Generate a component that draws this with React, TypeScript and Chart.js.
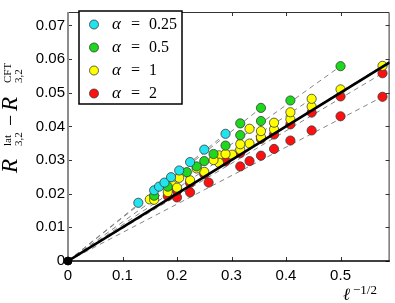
import React, { useEffect, useRef } from 'react';
import { Chart, registerables } from 'chart.js';
Chart.register(...registerables);

// ---- axis ticks ----
const xTicks = [0, 0.1, 0.2, 0.3, 0.4, 0.5];
const yTicks = [0, 0.01, 0.02, 0.03, 0.04, 0.05, 0.06, 0.07];
const xMax = 0.59;
const yMax = 0.074;

// ---- legend ----
const legendAlphas = ['0.25', '0.5', '1', '2'];
const alphaColors = ['#22e4ee', '#1ed81e', '#ffff00', '#ff1010'];

// ---- data (x = l^{-1/2}, y = R^lat - R^CFT) ----
// alpha = 0.25
const cyanX = [0.129, 0.158, 0.167, 0.177, 0.189, 0.204, 0.224, 0.25, 0.289];
const cyanY = [0.0173, 0.021, 0.0221, 0.0233, 0.0249, 0.0269, 0.0294, 0.0331, 0.0378];
// alpha = 0.5
const green1X = [0.158, 0.183, 0.218, 0.236, 0.25, 0.267, 0.289, 0.316, 0.354, 0.408, 0.5];
const green1Y = [0.0194, 0.0221, 0.0264, 0.0281, 0.0297, 0.0318, 0.0343, 0.0374, 0.0416, 0.0477, 0.0579];
const green2X = [0.316, 0.354];
const green2Y = [0.0409, 0.0455];
// alpha = 1
const yellow1X = [0.204, 0.236, 0.267, 0.289, 0.316, 0.354, 0.378, 0.408, 0.447];
const yellow1Y = [0.0247, 0.0275, 0.0300, 0.0318, 0.0347, 0.0386, 0.0411, 0.0442, 0.0482];
const yellow2X = [0.15, 0.158, 0.183, 0.2, 0.224, 0.25, 0.277, 0.301, 0.316, 0.333, 0.354, 0.378, 0.408, 0.447, 0.5, 0.577];
const yellow2Y = [0.0183, 0.0182, 0.0205, 0.0218, 0.024, 0.0265, 0.0292, 0.0316, 0.0331, 0.0349, 0.0368, 0.0391, 0.0421, 0.0459, 0.051, 0.058];
const yellow3X = [0.191, 0.277, 0.333];
const yellow3Y = [0.0226, 0.0314, 0.0393];
// alpha = 2
const red1X = [0.183, 0.2, 0.224, 0.25, 0.289, 0.316, 0.354, 0.378, 0.408, 0.447, 0.5, 0.577];
const red1Y = [0.0193, 0.0209, 0.0232, 0.0258, 0.0296, 0.0321, 0.0363, 0.0376, 0.0406, 0.0441, 0.0489, 0.0558];
const red2X = [0.2, 0.224, 0.258, 0.316, 0.333, 0.354, 0.378, 0.408, 0.447, 0.5, 0.577];
const red2Y = [0.0189, 0.0204, 0.0233, 0.0281, 0.0297, 0.0313, 0.0333, 0.0358, 0.0388, 0.043, 0.0488];

// ---- CFT reference line ----
const cftX = [0, 0.59];
const cftY = [0, 0.059];

const groups = [
  { xs: cyanX, ys: cyanY, c: 0, line: true },
  { xs: green1X, ys: green1Y, c: 1, line: true },
  { xs: green2X, ys: green2Y, c: 1, line: true },
  { xs: yellow1X, ys: yellow1Y, c: 2, line: true },
  { xs: yellow2X, ys: yellow2Y, c: 2, line: true },
  { xs: yellow3X, ys: yellow3Y, c: 2, line: false },
  { xs: red1X, ys: red1Y, c: 3, line: true },
  { xs: red2X, ys: red2Y, c: 3, line: true },
];

const toPts = (xs: number[], ys: number[]) => xs.map((x, i) => ({ x, y: ys[i] }));

const decorPlugin = {
  id: 'decor',
  beforeDatasetsDraw(chart: any) {
    const { ctx, chartArea: ca, scales } = chart;
    const sx = scales.x, sy = scales.y;
    ctx.save();
    // top & right frame
    ctx.strokeStyle = '#333';
    ctx.lineWidth = 1;
    ctx.beginPath();
    ctx.moveTo(ca.left, ca.top + 0.5);
    ctx.lineTo(ca.right - 0.5, ca.top + 0.5);
    ctx.lineTo(ca.right - 0.5, ca.bottom);
    ctx.stroke();
    // ticks
    ctx.beginPath();
    xTicks.forEach((v) => {
      const px = Math.round(sx.getPixelForValue(v)) + 0.5;
      ctx.moveTo(px, ca.bottom);
      ctx.lineTo(px, ca.bottom - 4);
      ctx.moveTo(px, ca.top);
      ctx.lineTo(px, ca.top + 4);
    });
    yTicks.forEach((v) => {
      const py = Math.round(sy.getPixelForValue(v)) + 0.5;
      ctx.moveTo(ca.left, py);
      ctx.lineTo(ca.left + 4, py);
      ctx.moveTo(ca.right, py);
      ctx.lineTo(ca.right - 4, py);
    });
    ctx.stroke();
    // bottom axis
    ctx.strokeStyle = '#000';
    ctx.lineWidth = 1.5;
    ctx.beginPath();
    ctx.moveTo(ca.left, ca.bottom);
    ctx.lineTo(ca.right, ca.bottom);
    ctx.stroke();
    // left axis
    ctx.strokeStyle = '#8c8c8c';
    ctx.lineWidth = 2;
    ctx.beginPath();
    ctx.moveTo(ca.left, ca.top);
    ctx.lineTo(ca.left, ca.bottom);
    ctx.stroke();
    ctx.restore();
  },
  afterDraw(chart: any) {
    const { ctx } = chart;
    ctx.save();
    // legend box
    ctx.fillStyle = '#fff';
    ctx.fillRect(79, 11, 103, 93);
    ctx.strokeStyle = '#000';
    ctx.lineWidth = 1.5;
    ctx.strokeRect(79, 11, 103, 93);
    legendAlphas.forEach((a, i) => {
      const cy = 24.5 + i * 23;
      ctx.beginPath();
      ctx.arc(94, cy, 4.5, 0, Math.PI * 2);
      ctx.fillStyle = alphaColors[i];
      ctx.fill();
      ctx.strokeStyle = '#3a3a3a';
      ctx.lineWidth = 0.8;
      ctx.stroke();
      ctx.fillStyle = '#000';
      ctx.textBaseline = 'alphabetic';
      ctx.textAlign = 'left';
      ctx.font = 'italic 17px "Liberation Serif"';
      ctx.fillText('α', 112, cy + 4.5);
      ctx.font = '16px "Liberation Serif"';
      ctx.fillText('=', 131, cy + 4.5);
      ctx.fillText(a, 149, cy + 4.5);
    });
    // x title: l^{-1/2}
    ctx.fillStyle = '#000';
    ctx.font = 'italic 17px "DejaVu Serif"';
    ctx.fillText('ℓ', 343, 300);
    ctx.font = '13px "Liberation Serif"';
    ctx.fillText('−1/2', 353, 294);
    // y title: R^lat_{3,2} - R^CFT_{3,2}
    ctx.translate(17, 175);
    ctx.rotate(-Math.PI / 2);
    ctx.font = 'italic 23px "Liberation Serif"';
    ctx.fillText('R', 2, 0);
    ctx.font = '11px "Liberation Serif"';
    ctx.fillText('lat', 29, -6);
    ctx.fillText('3,2', 29, 5);
    ctx.font = '20px "Liberation Serif"';
    ctx.fillText('−', 49, 0);
    ctx.font = 'italic 23px "Liberation Serif"';
    ctx.fillText('R', 64, 0);
    ctx.font = '11px "Liberation Serif"';
    ctx.fillText('CFT', 92, -6);
    ctx.fillText('3,2', 92, 5);
    ctx.restore();
  },
};

export default function App() {
  const ref = useRef<HTMLCanvasElement>(null);
  useEffect(() => {
    if (!ref.current) return;
    const datasets: any[] = [];
    groups.forEach((g) => {
      if (g.line) {
        const n = g.xs.length - 1;
        datasets.push({
          type: 'scatter',
          data: [{ x: cftX[0], y: cftY[0] }, { x: g.xs[n], y: g.ys[n] }],
          showLine: true,
          borderColor: '#777',
          borderWidth: 0.9,
          borderDash: [5, 4],
          pointRadius: 0,
          order: 5,
        });
      }
    });
    groups.forEach((g) => {
      datasets.push({
        type: 'scatter',
        data: toPts(g.xs, g.ys),
        backgroundColor: alphaColors[g.c],
        borderColor: '#3a3a3a',
        borderWidth: 0.8,
        pointRadius: 4.6,
        order: 3,
      });
    });
    datasets.push({
      type: 'scatter',
      data: toPts(cftX, cftY),
      showLine: true,
      borderColor: '#000',
      borderWidth: 2.6,
      pointRadius: 0,
      order: 1,
    });
    datasets.push({
      type: 'scatter',
      data: [{ x: cftX[0], y: cftY[0] }],
      backgroundColor: '#000',
      borderColor: '#000',
      pointRadius: 4,
      clip: false,
      order: 0,
    });

    const chart = new Chart(ref.current, {
      type: 'scatter',
      data: { datasets },
      options: {
        animation: false,
        responsive: false,
        devicePixelRatio: 1,
        layout: { padding: { top: 2, right: 2, left: 0, bottom: 0 } },
        plugins: { legend: { display: false }, tooltip: { enabled: false } },
        scales: {
          x: {
            type: 'linear',
            min: 0,
            max: xMax,
            grid: { display: false, drawTicks: false },
            border: { display: false },
            afterBuildTicks: (s: any) => { s.ticks = xTicks.map((v) => ({ value: v })); },
            afterFit: (s: any) => { s.height = 42; },
            ticks: {
              padding: 6,
              color: '#000',
              font: { family: '"Liberation Sans"', size: 15 },
              maxRotation: 0,
              callback: (v: any) => String(Math.round(v * 10) / 10),
            },
          },
          y: {
            type: 'linear',
            min: 0,
            max: yMax,
            grid: { display: false, drawTicks: false },
            border: { display: false },
            afterBuildTicks: (s: any) => { s.ticks = yTicks.map((v) => ({ value: v })); },
            afterFit: (s: any) => { s.width = 68; },
            ticks: {
              padding: 3,
              color: '#000',
              font: { family: '"Liberation Sans"', size: 15 },
              callback: (v: any) => String(Math.round(v * 100) / 100),
            },
          },
        },
      },
      plugins: [decorPlugin],
    });
    return () => chart.destroy();
  }, []);
  return (
    <div style={{ position: 'absolute', left: 0, top: 0, width: 395, height: 303 }}>
      <canvas ref={ref} width={395} height={303} style={{ display: 'block' }} />
    </div>
  );
}
